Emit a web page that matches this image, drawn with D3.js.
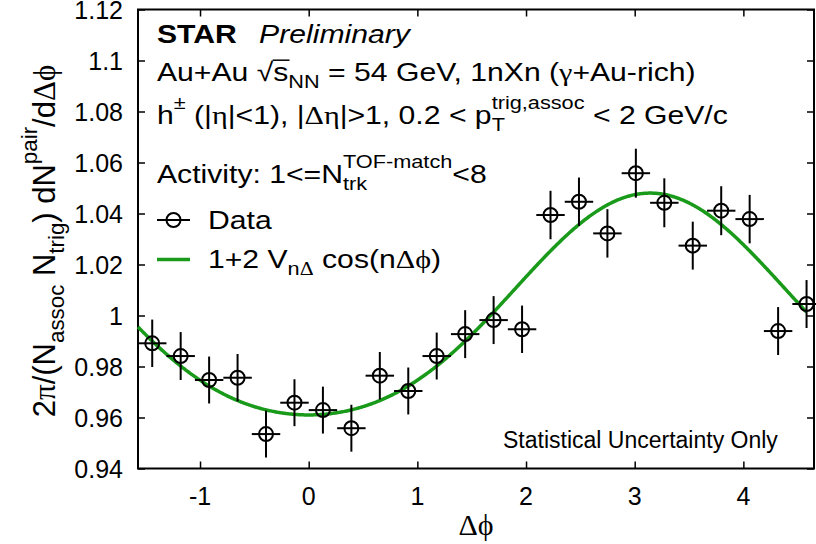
<!DOCTYPE html>
<html>
<head>
<meta charset="utf-8">
<script src="https://cdn.jsdelivr.net/npm/d3@7"></script>
<style>
  body { margin: 0; background: #fff; }
  svg { display: block; font-family: "Liberation Sans", Arial, Helvetica, sans-serif; }
</style>
</head>
<body>
<svg id="chart" width="816" height="544"></svg>
<script>
// Delta phi bin centres (24 bins over 2 pi)
const deltaPhi = [-1.4399, -1.1781, -0.9163, -0.6545, -0.3927, -0.1309, 0.1309, 0.3927,
                  0.6545, 0.9163, 1.1781, 1.4399, 1.7017, 1.9635, 2.2253, 2.4871,
                  2.7489, 3.0107, 3.2725, 3.5343, 3.7961, 4.0579, 4.3197, 4.5815];
const binHalfWidth = 0.1309;
const corrValues = [0.9891, 0.9841, 0.9747, 0.9756, 0.9535, 0.9658, 0.9629, 0.9558,
                    0.9764, 0.9704, 0.9841, 0.9927, 0.9982, 0.9946, 1.0394, 1.0446,
                    1.0322, 1.0558, 1.0442, 1.0274, 1.0411, 1.0378, 0.9939, 1.0045];
const corrErrors = [0.0093, 0.0094, 0.0092, 0.0093, 0.0092, 0.0092, 0.0092, 0.0092,
                    0.0093, 0.0092, 0.0092, 0.0094, 0.0094, 0.0093, 0.0095, 0.0095,
                    0.0095, 0.0096, 0.0096, 0.0094, 0.0096, 0.0095, 0.0094, 0.0094];
// fit: 1 + 2 V1 cos(dphi) + 2 V2 cos(2 dphi)
const fitV1 = -0.02175;
const fitV2 = 0.00225;

const xTicks = [-1, 0, 1, 2, 3, 4];
const yTicks = [0.94, 0.96, 0.98, 1.00, 1.02, 1.04, 1.06, 1.08, 1.10, 1.12];
const yTickLabels = ["0.94", "0.96", "0.98", "1", "1.02", "1.04", "1.06", "1.08", "1.1", "1.12"];

const green = "#1a9a1a";
const serif = "'Liberation Serif', 'DejaVu Serif', 'Times New Roman', serif";
const plot = { left: 138, right: 814, top: 9.5, bottom: 468.5 };

const svg = d3.select("#chart");

const x = d3.scaleLinear()
    .domain([-Math.PI / 2, 4.65])
    .range([plot.left, plot.right]);

const y = d3.scaleLinear()
    .domain([0.94, 1.12])
    .range([plot.bottom, plot.top]);

// rich text helper: parts = [{t, sub, sup, stack, b, i, g, dx}]
// sx stretches the text horizontally (the annotation text is wide in the original)
function richText(parent, px, py, parts, size, sx = 1) {
    const g = parent.append("g").attr("transform", `translate(${px},${py}) scale(${sx},1)`);
    const t = g.append("text")
        .style("font-size", size + "px")
        .style("fill", "#000");
    let shift = 0;
    let prev = null;
    const nodes = [];
    parts.forEach(p => {
        const target = p.sub ? size * 0.28 : p.sup ? -size * 0.58 : 0;
        const ts = t.append("tspan").attr("dy", target - shift).text(p.t);
        shift = target;
        if (p.sub || p.sup) ts.style("font-size", (size * 0.72) + "px");
        if (p.b) ts.style("font-weight", "bold");
        if (p.i) ts.style("font-style", "italic");
        if (p.g) ts.style("font-family", serif);
        if (p.dx) ts.attr("dx", p.dx);
        if (p.stack && prev) ts.attr("dx", -prev.getComputedTextLength());
        prev = ts.node();
        nodes.push(ts.node());
    });
    return { g: g, text: t, nodes: nodes };
}

// axes ticks (inward, on all four sides)
const axes = svg.append("g").attr("class", "axes");

axes.append("g")
    .attr("transform", `translate(0,${plot.bottom})`)
    .call(d3.axisBottom(x).tickValues(xTicks).tickSize(-7).tickFormat(""))
    .call(g => g.select(".domain").remove());
axes.append("g")
    .attr("transform", `translate(0,${plot.top})`)
    .call(d3.axisTop(x).tickValues(xTicks).tickSize(-7).tickFormat(""))
    .call(g => g.select(".domain").remove());
axes.append("g")
    .attr("transform", `translate(${plot.left},0)`)
    .call(d3.axisLeft(y).tickValues(yTicks).tickSize(-7).tickFormat(""))
    .call(g => g.select(".domain").remove());
axes.append("g")
    .attr("transform", `translate(${plot.right},0)`)
    .call(d3.axisRight(y).tickValues(yTicks).tickSize(-7).tickFormat(""))
    .call(g => g.select(".domain").remove());
axes.selectAll(".tick line").attr("stroke", "#000").attr("stroke-width", 1.5);

// tick labels
svg.append("g").selectAll("text")
    .data(xTicks)
    .enter()
    .append("text")
    .attr("x", d => x(d))
    .attr("y", 505)
    .attr("text-anchor", "middle")
    .style("font-size", "25px")
    .text(d => d);

svg.append("g").selectAll("text")
    .data(yTicks)
    .enter()
    .append("text")
    .attr("x", 123)
    .attr("y", d => y(d))
    .attr("dy", "0.36em")
    .attr("text-anchor", "end")
    .style("font-size", "25px")
    .text((d, i) => yTickLabels[i]);

// frame
svg.append("rect")
    .attr("x", plot.left)
    .attr("y", plot.top)
    .attr("width", plot.right - plot.left)
    .attr("height", plot.bottom - plot.top)
    .attr("fill", "none")
    .attr("stroke", "#000")
    .attr("stroke-width", 2);

// fit curve
const fitLine = d3.line()
    .x(d => x(d))
    .y(d => y(1 + 2 * fitV1 * Math.cos(d) + 2 * fitV2 * Math.cos(2 * d)));
const fitX = d3.range(-Math.PI / 2, deltaPhi[deltaPhi.length - 1], 0.01)
    .concat([deltaPhi[deltaPhi.length - 1]]);
svg.append("path")
    .datum(fitX)
    .attr("d", fitLine)
    .attr("fill", "none")
    .attr("stroke", green)
    .attr("stroke-width", 3.5);

// data points
const pts = svg.append("g").selectAll("g")
    .data(deltaPhi.map((d, i) => ({ x: d, v: corrValues[i], e: corrErrors[i] })))
    .enter()
    .append("g")
    .attr("stroke", "#000")
    .attr("stroke-width", 2)
    .attr("fill", "none");
pts.append("line")
    .attr("x1", d => x(d.x)).attr("x2", d => x(d.x))
    .attr("y1", d => y(d.v - d.e)).attr("y2", d => y(d.v + d.e));
pts.append("line")
    .attr("x1", d => x(d.x - binHalfWidth)).attr("x2", d => x(d.x + binHalfWidth))
    .attr("y1", d => y(d.v)).attr("y2", d => y(d.v));
pts.append("circle")
    .attr("cx", d => x(d.x))
    .attr("cy", d => y(d.v))
    .attr("r", 7);

// axis titles
svg.append("text")
    .attr("x", (plot.left + plot.right) / 2)
    .attr("y", 535)
    .attr("text-anchor", "middle")
    .style("font-family", serif)
    .style("font-size", "30px")
    .text("Δϕ");

const yTitle = svg.append("g").attr("transform", "translate(55,241) rotate(-90)");
const yt = richText(yTitle, 0, 0, [
    { t: "2" }, { t: "π", g: true }, { t: "/(N" }, { t: "assoc", sub: true },
    { t: " N" }, { t: "trig", sub: true }, { t: ") dN" }, { t: "pair", sup: true },
    { t: "/d" }, { t: "Δϕ", g: true }
], 31);
yt.text.attr("text-anchor", "middle");

// annotation block
const fs = 26;
const sx = 1.16;
richText(svg, 157, 43, [{ t: "STAR", b: true }, { t: " " }, { t: "Preliminary", i: true, dx: 12 }], fs, sx);
const l2 = richText(svg, 157, 81, [
    { t: "Au+Au " }, { t: "√" }, { t: "s" }, { t: "NN", sub: true },
    { t: " = 54 GeV, 1nXn (" }, { t: "γ", g: true }, { t: "+Au-rich)" }
], fs, sx);
// bar over s for the square root
{
    const r = l2.nodes[1].getBBox();
    const s = l2.nodes[2].getBBox();
    l2.g.append("line")
        .attr("x1", r.x + r.width - 1).attr("x2", s.x + s.width + 1)
        .attr("y1", -fs * 0.8).attr("y2", -fs * 0.8)
        .attr("stroke", "#000").attr("stroke-width", 1.5);
}
richText(svg, 157, 124, [
    { t: "h" }, { t: "±", sup: true }, { t: " (|" }, { t: "η", g: true }, { t: "|<1), |" },
    { t: "Δη", g: true }, { t: "|>1, 0.2 < p" }, { t: "T", sub: true },
    { t: "trig,assoc", sup: true, stack: true }, { t: " < 2 GeV/c" }
], fs, sx);
richText(svg, 157, 183, [
    { t: "Activity: 1<=N" }, { t: "trk", sub: true },
    { t: "TOF-match", sup: true, stack: true }, { t: "<8" }
], fs, sx);

// legend
const legend = svg.append("g");
legend.append("line")
    .attr("x1", 157).attr("x2", 190).attr("y1", 220).attr("y2", 220)
    .attr("stroke", "#000").attr("stroke-width", 2);
legend.append("circle")
    .attr("cx", 173.5).attr("cy", 220).attr("r", 7)
    .attr("fill", "none").attr("stroke", "#000").attr("stroke-width", 2);
richText(legend, 208, 229, [{ t: "Data" }], fs, sx);
legend.append("line")
    .attr("x1", 157).attr("x2", 190).attr("y1", 259.5).attr("y2", 259.5)
    .attr("stroke", green).attr("stroke-width", 3.5);
richText(legend, 208, 268, [
    { t: "1+2 V" }, { t: "n", sub: true }, { t: "Δ", sub: true, g: true },
    { t: " cos(n" }, { t: "Δϕ", g: true }, { t: ")" }
], fs, sx);

svg.append("text")
    .attr("x", 503)
    .attr("y", 448)
    .style("font-size", "23px")
    .text("Statistical Uncertainty Only");
</script>
</body>
</html>
